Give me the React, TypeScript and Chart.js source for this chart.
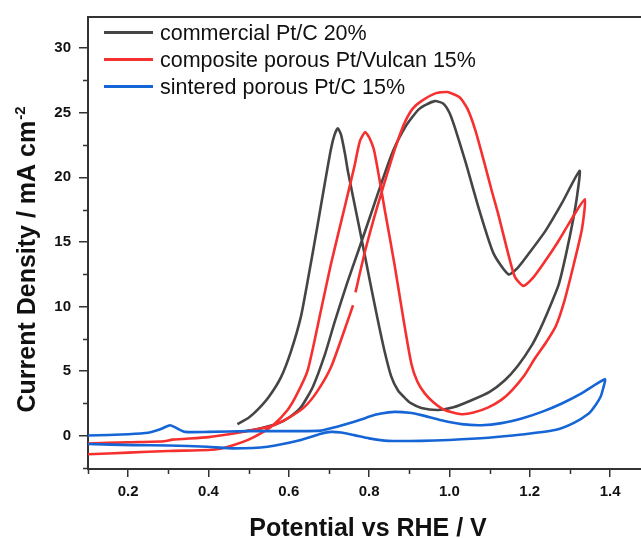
import React, { useEffect, useRef } from "react";
import { Chart, registerables } from "chart.js";

Chart.register(...registerables);

// ---- data (Potential V vs RHE, Current density mA cm^-2) ----
const commercialV = [
  0.48, 0.52, 0.572, 0.6, 0.63, 0.66, 0.69, 0.715, 0.745, 0.773, 0.805, 0.83, 0.859, 0.89, 0.925, 0.963, 0.985,
  1.0, 1.013, 1.04, 1.075, 1.11, 1.147, 1.17, 1.2, 1.24, 1.28, 1.324,
  1.318, 1.309, 1.29, 1.272, 1.245, 1.225, 1.205, 1.17, 1.138, 1.1, 1.055, 1.01, 0.972, 0.93, 0.905,
  0.89, 0.872, 0.855, 0.838, 0.822, 0.805, 0.775, 0.747, 0.74, 0.73, 0.722, 0.714, 0.705, 0.69, 0.67,
  0.65, 0.63, 0.605, 0.58, 0.55, 0.522, 0.5, 0.472,
];
const commercialJ = [
  0.3, 0.5, 0.95, 1.4, 2.2, 3.8, 6.3, 8.9, 11.8, 14.3, 17.2, 19.5, 22.0, 23.9, 25.3, 25.9, 25.7,
  25.0, 23.9, 21.2, 17.4, 14.1, 12.5, 13.0, 14.2, 15.9, 18.0, 20.5,
  18.6, 16.9, 14.0, 11.7, 9.6, 8.2, 7.0, 5.4, 4.3, 3.4, 2.75, 2.2, 2.0, 2.15, 2.5,
  2.9, 3.5, 4.6, 6.6, 8.9, 11.5, 16.2, 20.5, 21.8, 23.3, 23.8, 23.3, 22.2, 19.6, 16.0,
  12.5, 9.2, 6.5, 4.5, 3.0, 2.0, 1.4, 0.9,
];

const compositeV = [
  0.1, 0.2, 0.29, 0.31, 0.4, 0.463, 0.52, 0.563, 0.6, 0.638, 0.67, 0.705, 0.74, 0.76, null,
  0.766, 0.79, 0.82, 0.855, 0.872, 0.888, 0.908, 0.93, 0.965, 0.995, 1.025, 1.045, 1.065, 1.088, 1.105,
  1.122, 1.147, 1.163, 1.184, 1.21, 1.238, 1.27, 1.297, 1.337,
  1.33, 1.309, 1.285, 1.265, 1.24, 1.213, 1.185, 1.155, 1.13, 1.097, 1.06, 1.03, 0.988, 0.96,
  0.938, 0.92, 0.905, 0.884, 0.863, 0.84, 0.813, 0.8, 0.79, 0.777, 0.763, 0.74, 0.705, 0.68,
  0.647, 0.62, 0.597, 0.56, 0.53, 0.5, 0.463, 0.43, 0.4, 0.3, 0.2, 0.1,
];
const compositeJ = [
  -0.6, -0.5, -0.42, -0.3, -0.1, 0.18, 0.5, 0.82, 1.4, 2.2, 3.4, 5.3, 8.3, 10.1, null,
  11.1, 14.3, 17.7, 21.3, 22.9, 24.2, 25.3, 25.9, 26.5, 26.6, 26.2, 25.3, 23.6, 21.0, 19.0,
  17.1, 14.0, 12.3, 11.6, 12.3, 13.5, 15.0, 16.4, 18.3,
  16.0, 13.2, 10.3, 8.5, 7.2, 6.0, 4.6, 3.5, 2.8, 2.2, 1.8, 1.67, 2.0, 2.6,
  3.3, 4.2, 5.6, 9.3, 13.3, 17.3, 22.0, 23.1, 23.5, 22.8, 20.8, 17.8, 13.3, 9.7,
  5.06, 3.2, 2.0, 0.8, 0.18, -0.3, -0.72, -1.0, -1.1, -1.18, -1.3, -1.43,
];

const sinteredV = [
  0.1, 0.2, 0.25, 0.28, 0.304, 0.32, 0.342, 0.4, 0.5, 0.6, 0.68, 0.72, 0.763, 0.79, 0.797, 0.83,
  0.863, 0.9, 0.93, 0.98, 1.03, 1.08, 1.13, 1.18, 1.23, 1.28, 1.33, 1.387,
  1.383, 1.376, 1.36, 1.347, 1.31, 1.263, 1.18, 1.097, 1.0, 0.93, 0.847, 0.8, 0.763, 0.73, 0.705,
  0.68, 0.63, 0.547, 0.463, 0.397, 0.3, 0.213, 0.1,
];
const sinteredJ = [
  0.02, 0.12, 0.23, 0.5, 0.82, 0.6, 0.3, 0.3, 0.36, 0.36, 0.4, 0.7, 1.08, 1.35, 1.46, 1.72,
  1.85, 1.78, 1.6, 1.2, 0.9, 0.82, 0.98, 1.34, 1.85, 2.5, 3.3, 4.37,
  3.7, 3.0, 2.2, 1.72, 1.0, 0.44, 0.1, -0.15, -0.32, -0.39, -0.39, -0.2, 0.05, 0.25, 0.3,
  0.15, -0.33, -0.85, -0.97, -0.85, -0.75, -0.72, -0.64,
];

const seriesNames = ["commercial Pt/C 20%", "composite porous Pt/Vulcan 15%", "sintered porous Pt/C 15%"];
const seriesColors = ["#454545", "#F5302F", "#1565D6"];

const xMajorTicks = [0.2, 0.4, 0.6, 0.8, 1.0, 1.2, 1.4];
const xMinorTicks = [0.1, 0.3, 0.5, 0.7, 0.9, 1.1, 1.3];
const yMajorTicks = [0, 5, 10, 15, 20, 25, 30];
const yMinorTicks = [-2.5, 2.5, 7.5, 12.5, 17.5, 22.5, 27.5];

const xTitle = "Potential vs RHE / V";
const yTitle = "Current Density / mA cm";
const yTitleSup = "-2";

const FONT = "'Liberation Sans', Arial, Helvetica, sans-serif";
const AXIS = "#333333";

function toPoints(xs: (number | null)[], ys: (number | null)[]) {
  return xs.map((x, i) => ({ x: x as number, y: ys[i] as number }));
}

const decorPlugin = {
  id: "decor",
  afterDraw(chart: any) {
    const { ctx, chartArea: a, scales } = chart;
    const xs = scales.x;
    const ys = scales.y;
    ctx.save();
    ctx.strokeStyle = AXIS;
    ctx.lineWidth = 1.5;
    ctx.beginPath();
    for (const v of xMinorTicks) {
      const px = Math.round(xs.getPixelForValue(v)) + 0.5;
      ctx.moveTo(px, a.bottom);
      ctx.lineTo(px, a.bottom + 5);
    }
    for (const v of yMinorTicks) {
      const py = Math.round(ys.getPixelForValue(v)) + 0.5;
      ctx.moveTo(a.left, py);
      ctx.lineTo(a.left - 5, py);
    }
    ctx.stroke();
    // top frame
    ctx.lineWidth = 2;
    ctx.beginPath();
    ctx.moveTo(a.left, a.top);
    ctx.lineTo(a.right, a.top);
    ctx.stroke();

    // legend
    const rows = [32.5, 59.5, 86.5];
    ctx.font = `21.5px ${FONT}`;
    ctx.textBaseline = "alphabetic";
    ctx.textAlign = "left";
    seriesNames.forEach((name, i) => {
      ctx.strokeStyle = seriesColors[i];
      ctx.lineWidth = 3;
      ctx.beginPath();
      ctx.moveTo(104, rows[i]);
      ctx.lineTo(153, rows[i]);
      ctx.stroke();
      ctx.fillStyle = "#111";
      ctx.fillText(name, 160, rows[i] + 7.5);
    });

    // x title
    ctx.fillStyle = "#111";
    ctx.font = `bold 25px ${FONT}`;
    ctx.textAlign = "center";
    ctx.fillText(xTitle, 368, 536);

    // y title with superscript
    ctx.translate(35, 260);
    ctx.rotate(-Math.PI / 2);
    ctx.font = `bold 25px ${FONT}`;
    const w1 = ctx.measureText(yTitle).width;
    ctx.font = `bold 15px ${FONT}`;
    const w2 = ctx.measureText(yTitleSup).width;
    const start = -(w1 + w2) / 2;
    ctx.textAlign = "left";
    ctx.font = `bold 25px ${FONT}`;
    ctx.fillText(yTitle, start, 0);
    ctx.font = `bold 15px ${FONT}`;
    ctx.fillText(yTitleSup, start + w1 + 1, -10);
    ctx.restore();
  },
};

export default function App() {
  const ref = useRef<HTMLCanvasElement | null>(null);
  useEffect(() => {
    document.body.style.margin = "0";
    if (!ref.current) return;
    const mk = (i: number, xs: (number | null)[], ys: (number | null)[]) => ({
      label: seriesNames[i],
      data: toPoints(xs, ys),
      showLine: true,
      borderColor: seriesColors[i],
      backgroundColor: seriesColors[i],
      borderWidth: 2.6,
      pointRadius: 0,
      tension: 0.2,
      spanGaps: false,
      fill: false,
    });
    const chart = new Chart(ref.current, {
      type: "scatter",
      data: {
        datasets: [
          mk(2, sinteredV, sinteredJ),
          mk(1, compositeV, compositeJ),
          mk(0, commercialV, commercialJ),
        ],
      },
      options: {
        animation: false,
        responsive: false,
        devicePixelRatio: 1,
        layout: { padding: { top: 15, left: 0, right: 0, bottom: 0 } },
        plugins: { legend: { display: false }, tooltip: { enabled: false } },
        scales: {
          x: {
            type: "linear",
            min: 0.1,
            max: 1.477,
            afterFit: (s: any) => {
              s.height = 69;
            },
            afterBuildTicks: (s: any) => {
              s.ticks = xMajorTicks.map((v) => ({ value: v }));
            },
            ticks: {
              font: { family: FONT, size: 15, weight: "bold" },
              color: "#111",
              padding: 6,
              maxRotation: 0,
              callback: (v: any) => Number(v).toFixed(1),
            },
            grid: {
              display: true,
              drawOnChartArea: false,
              drawTicks: true,
              tickLength: 8,
              color: AXIS,
              lineWidth: 1.5,
            },
            border: { display: true, color: AXIS, width: 2 },
          },
          y: {
            type: "linear",
            min: -2.57,
            max: 32.41,
            afterFit: (s: any) => {
              s.width = 88;
            },
            afterBuildTicks: (s: any) => {
              s.ticks = yMajorTicks.map((v) => ({ value: v }));
            },
            ticks: {
              font: { family: FONT, size: 15, weight: "bold" },
              color: "#111",
              padding: 8,
              callback: (v: any) => String(v),
            },
            grid: {
              display: true,
              drawOnChartArea: false,
              drawTicks: true,
              tickLength: 9,
              color: AXIS,
              lineWidth: 1.5,
            },
            border: { display: true, color: AXIS, width: 2 },
          },
        },
      },
      plugins: [decorPlugin],
    } as any);
    return () => chart.destroy();
  }, []);
  return (
    <div style={{ width: 641, height: 538, background: "#fff" }}>
      <canvas ref={ref} width={641} height={538} style={{ display: "block" }} />
    </div>
  );
}
